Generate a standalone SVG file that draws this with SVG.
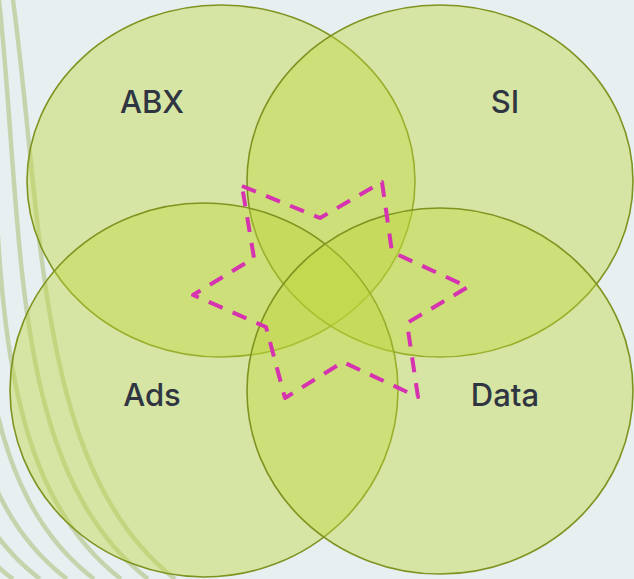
<svg xmlns="http://www.w3.org/2000/svg" width="634" height="579" viewBox="0 0 634 579">
  <style>
    .bgline { fill: none; stroke: #c6d4ae; stroke-width: 4.5; }
    .set { fill: #bed73c; fill-opacity: 0.42; stroke: #7f9320; stroke-width: 1.6; }
    .label { font-family: Inter, "Noto Sans", "Liberation Sans", sans-serif; font-size: 31px; font-weight: 500; fill: #2f3541; text-anchor: middle; }
    .star { fill: none; stroke: #d633b0; stroke-width: 4; stroke-dasharray: 15 11; stroke-linejoin: round; }
  </style>
  <rect x="0" y="0" width="634" height="579" fill="#e7eff0"/>
  <g id="background-lines">
    <path class="bgline" d="M13,0 C44,230 36,470 175,579"/>
    <path class="bgline" d="M-1,0 C24,230 8,470 148,579"/>
    <path class="bgline" d="M-15,0 C4,230 -20,470 121,579"/>
    <path class="bgline" d="M-29,0 C-16,230 -48,470 94,579"/>
    <path class="bgline" d="M-43,0 C-36,230 -76,470 67,579"/>
    <path class="bgline" d="M-57,0 C-56,230 -104,470 40,579"/>
    <path class="bgline" d="M-71,0 C-76,230 -132,470 13,579"/>
  </g>
  <g id="abx">
    <ellipse class="set" cx="221" cy="181" rx="194" ry="176"/>
    <text class="label" x="152" y="113">ABX</text>
  </g>
  <g id="si">
    <ellipse class="set" cx="440" cy="181" rx="193" ry="176"/>
    <text class="label" x="505" y="113">SI</text>
  </g>
  <g id="ads">
    <ellipse class="set" cx="204" cy="390" rx="194" ry="187"/>
    <text class="label" x="152" y="406">Ads</text>
  </g>
  <g id="data">
    <ellipse class="set" cx="440" cy="391" rx="193" ry="183"/>
    <text class="label" x="505" y="406">Data</text>
  </g>
  <g id="connectors">
    <polygon class="star" points="242,186 320,218 382,182 392,252 468,287 407,323 418,397 343,362 285,398 266,327 193,295 254,258"/>
  </g>
</svg>
